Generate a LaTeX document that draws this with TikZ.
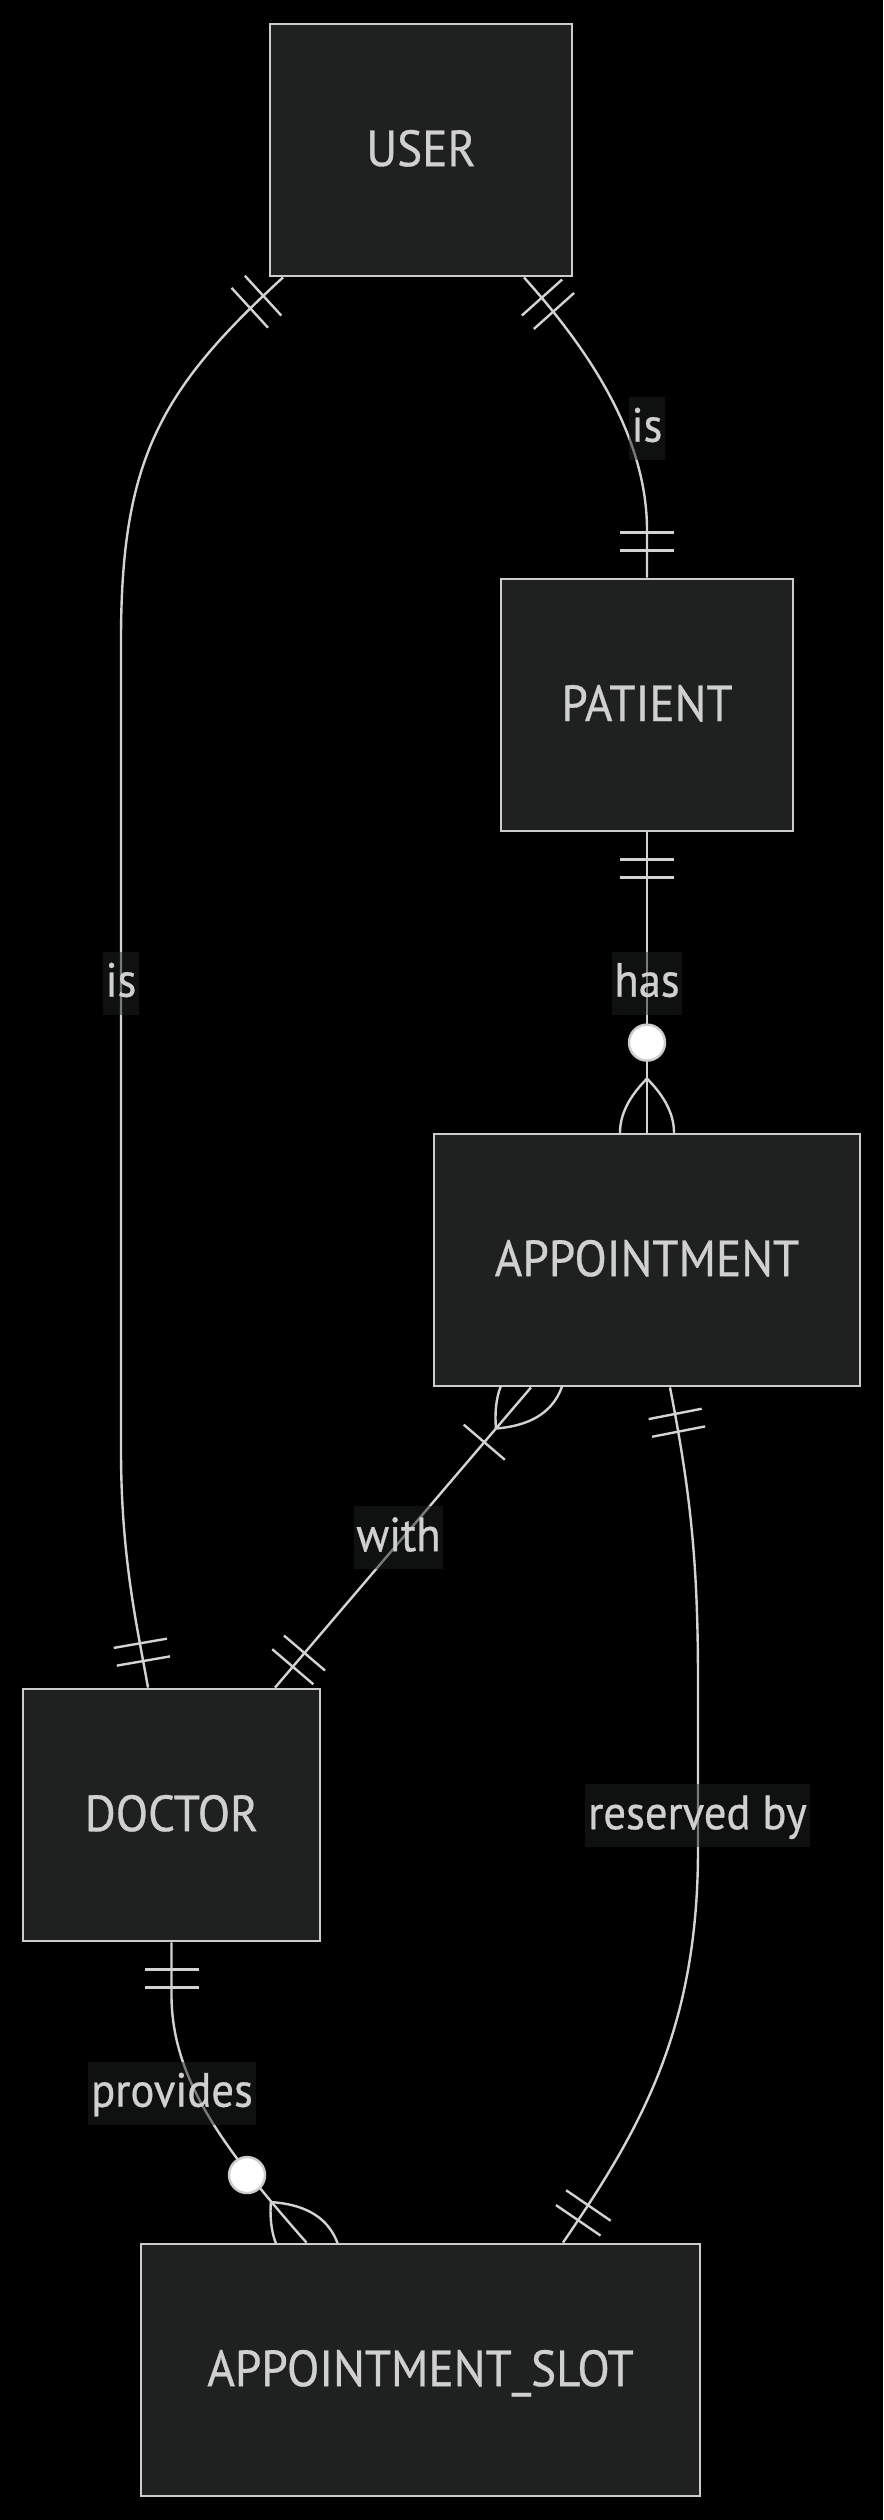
\documentclass[tikz,border=0pt]{standalone}
\usepackage{fontspec}
\setmainfont{PT Sans}[FakeStretch=0.93,FakeBold=0.6]
\usetikzlibrary{calc,decorations.markings}
\pgfdeclarelayer{background}
\pgfsetlayers{background,main}
\definecolor{boxfill}{HTML}{1F2020}
\definecolor{boxline}{HTML}{CCCCCC}
\definecolor{relline}{HTML}{D3D3D3}
\definecolor{txt}{HTML}{D0D0D0}

\begin{document}
\begin{tikzpicture}[x=0.25pt,y=-0.25pt,
entity/.style={
  draw=boxline,
  line width=0.7pt,
  fill=boxfill,
  text=txt,
  font={\fontsize{12.7pt}{15}\selectfont},
  minimum height=63pt,
  inner sep=0pt,
  text depth=1pt},
rellabel/.style={
  fill=boxfill,
  fill opacity=0.5,
  text opacity=1,
  text=txt,
  font={\fontsize{12pt}{15}\selectfont},
  inner xsep=0.7pt,
  inner ysep=0pt,
  text height=11.3pt,
  text depth=4.45pt},
rel/.style={draw=relline, line width=0.6pt},
onestart/.style={postaction={decorate,decoration={markings,
  mark=at position 0 with {\draw[rel] (27,-27) -- (27,27) (45,-27) -- (45,27);}}}},
oneend/.style={postaction={decorate,decoration={markings,
  mark=at position 1 with {\draw[rel] (-27,-27) -- (-27,27) (-45,-27) -- (-45,27);}}}},
manystart/.style={postaction={decorate,decoration={markings,
  mark=at position 0 with {\draw[rel] (54,0) .. controls (18,-36) and (-18,-36) .. (-54,0)
    .. controls (-18,36) and (18,36) .. (54,0) (72,-27) -- (72,27);}}}},
zeromanyend/.style={postaction={decorate,decoration={markings,
  mark=at position 1 with {\draw[rel] (-54,0) .. controls (-18,-36) and (18,-36) .. (54,0)
    .. controls (18,36) and (-18,36) .. (-54,0);
    \draw[rel, draw=boxline, fill=white] (-90,0) circle[radius=18];}}}},
]

\node[entity, minimum width=75.5pt] (user) at (421,150) {USER};
\node[entity, minimum width=73pt] (patient) at (647,705) {PATIENT};
\node[entity, minimum width=106.5pt] (appt) at (647,1260) {APPOINTMENT};
\node[entity, minimum width=74.25pt] (doctor) at (171.5,1815) {DOCTOR};
\node[entity, minimum width=139.75pt] (slot) at (420.5,2370) {APPOINTMENT\_SLOT};

\begin{pgfonlayer}{background}
\fill[black] (0,0) rectangle (883,2520);
\draw[rel,onestart,oneend] ($(user.south)+(-138,0)$) .. controls (160,390) and (121,460) .. (121,640)
  -- (121,1450) .. controls (121,1560) and (138,1630) .. ($(doctor.north)+(-23.5,0)$);
\draw[rel,onestart,oneend] ($(user.south)+(103,0)$) .. controls (580,340) and (647,430) .. (647,530)
  -- (patient.north);
\draw[rel,onestart,zeromanyend] (patient.south) -- (appt.north);
\draw[rel,manystart,oneend] ($(appt.south)+(-116,0)$) -- ($(doctor.north)+(103.5,0)$);
\draw[rel,onestart,oneend] ($(appt.south)+(23,0)$) .. controls (690,1490) and (698,1560) .. (698,1680)
  -- (698,1850) .. controls (698,2030) and (640,2130) .. ($(slot.north)+(142.5,0)$);
\draw[rel,onestart,zeromanyend] (doctor.south) -- (171.5,1995) .. controls (171.5,2080) and (225,2150)
  .. ($(slot.north)+(-114,0)$);
\end{pgfonlayer}

\node[rellabel] (isPatient) at (647,428) {is};
\node[rellabel] (isDoctor) at (121,983) {is};
\node[rellabel] (has) at (647,983) {has};
\node[rellabel] (with) at (398.5,1537.5) {with};
\node[rellabel] (reserved) at (697.5,1815.5) {reserved by};
\node[rellabel] (provides) at (172,2093) {provides};

\end{tikzpicture}
\end{document}
